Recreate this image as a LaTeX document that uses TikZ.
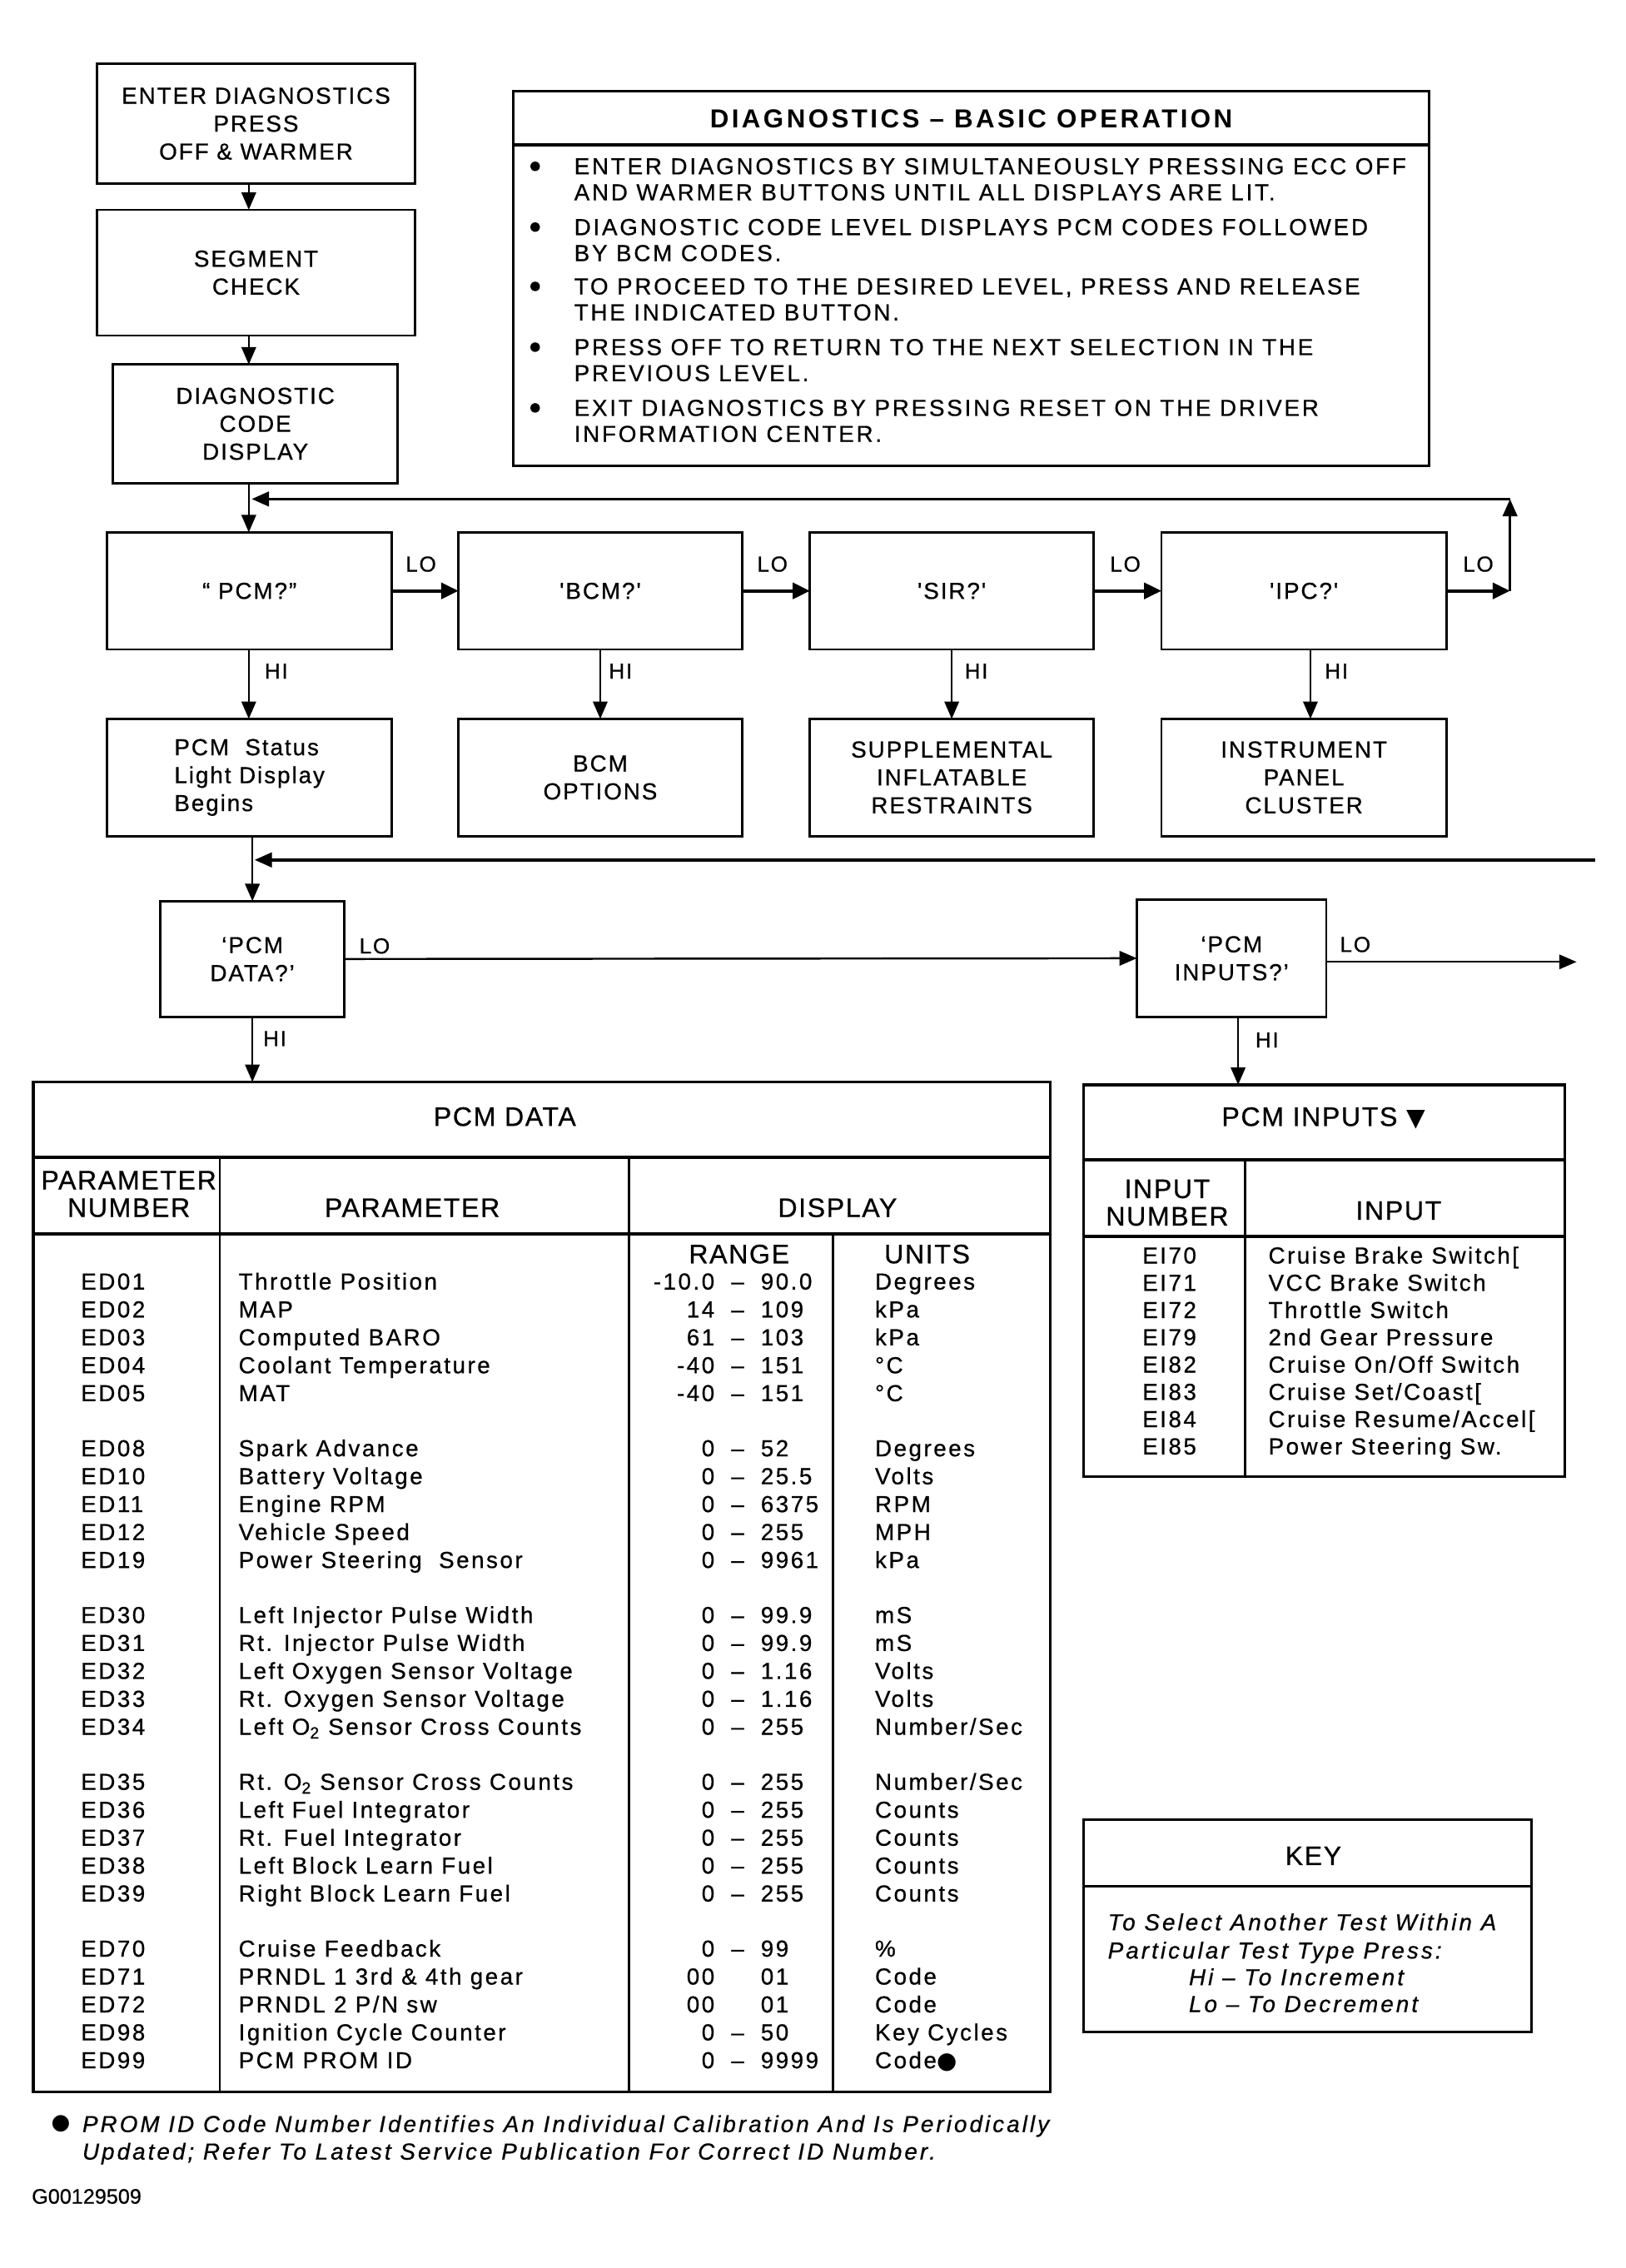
\documentclass[tikz,border=0pt]{standalone}
\usepackage{fontspec}
\setmainfont{Liberation Sans}
\newfontfamily\flowfont[LetterSpace=7,FakeBold=0.6]{Liberation Sans}
\newfontfamily\bulfont[LetterSpace=10,FakeBold=0.6]{Liberation Sans}
\newfontfamily\tabfont[LetterSpace=9,FakeBold=0.6]{Liberation Sans}
\newfontfamily\itfont[LetterSpace=11,FakeBold=0.6]{Liberation Sans Italic}
\newfontfamily\headfont[LetterSpace=5,FakeBold=0.6]{Liberation Sans}
\newfontfamily\titlefont[LetterSpace=11]{Liberation Sans Bold}
\newfontfamily\plainfont[FakeBold=0.6]{Liberation Sans}
\newfontfamily\symfont{DejaVu Sans}
\usetikzlibrary{arrows.meta}
\tikzset{
  every node/.style={inner sep=0pt, outer sep=0pt},
  fbox/.style={draw, line width=1.6pt, align=center, font=\flowfont\fontsize{16}{19.3}\selectfont},
  lbl/.style={font=\flowfont\fontsize{15}{18}\selectfont},
  conn/.style={line width=1.4pt, -{Triangle[length=12pt,width=10pt]}},
  loconn/.style={line width=2.4pt, -{Triangle[length=12pt,width=11pt]}},
  tabtxt/.style={font=\tabfont\fontsize{16}{19}\selectfont},
  headtxt/.style={font=\headfont\fontsize{18.5}{19}\selectfont, align=center},
  bultxt/.style={font=\bulfont\fontsize{16}{18}\selectfont, anchor=base west},
  keytxt/.style={font=\itfont\fontsize{16}{19}\selectfont, anchor=base west},
  tline/.style={line width=1.6pt},
  thline/.style={line width=2.4pt},
}
\begin{document}
\begin{tikzpicture}[x=1pt,y=-1pt]
\useasboundingbox (0,0) rectangle (1124,1568);
\fill[white] (0,0) rectangle (1124,1568);

\coordinate (colx) at (172,0);
\coordinate (hiipc) at (906,0);
\coordinate (hiinp) at (856,0);

% top flow
\node[fbox, minimum width=220pt, minimum height=83pt] (enter) at (177,85.5) {ENTER DIAGNOSTICS\\PRESS\\OFF \& WARMER};
\node[fbox, minimum width=220pt, minimum height=87pt] (segment) at (177,188.5) {SEGMENT\\CHECK};
\node[fbox, minimum width=197pt, minimum height=82pt] (diag) at (176.5,293) {DIAGNOSTIC\\CODE\\DISPLAY};

\draw[conn] (enter.south -| colx) -- (segment.north -| colx);
\draw[conn] (segment.south -| colx) -- (diag.north -| colx);

% basic operation box
\node[draw, line width=1.6pt, minimum width=633pt, minimum height=259pt] (basic) at (671.5,192.5) {};
\node[font=\titlefont\fontsize{18}{20}\selectfont] (basictitle) at (671.5,82) {DIAGNOSTICS – BASIC OPERATION};
\draw[thline] (355,100) -- (988,100);
\foreach \yy/\nm in {115/b1,157/b2,198/b3,240/b4,282/b5}{
  \fill (370,\yy) circle (3.3pt);
}
\node[bultxt] (l1) at (397,120.5) {ENTER DIAGNOSTICS BY SIMULTANEOUSLY PRESSING ECC OFF};
\node[bultxt] (l2) at (397,138.5) {AND WARMER BUTTONS UNTIL ALL DISPLAYS ARE LIT.};
\node[bultxt] (l3) at (397,162.5) {DIAGNOSTIC CODE LEVEL DISPLAYS PCM CODES FOLLOWED};
\node[bultxt] (l4) at (397,180.5) {BY BCM CODES.};
\node[bultxt] (l5) at (397,203.5) {TO PROCEED TO THE DESIRED LEVEL, PRESS AND RELEASE};
\node[bultxt] (l6) at (397,221.5) {THE INDICATED BUTTON.};
\node[bultxt] (l7) at (397,245.5) {PRESS OFF TO RETURN TO THE NEXT SELECTION IN THE};
\node[bultxt] (l8) at (397,263.5) {PREVIOUS LEVEL.};
\node[bultxt] (l9) at (397,287.5) {EXIT DIAGNOSTICS BY PRESSING RESET ON THE DRIVER};
\node[bultxt] (l10) at (397,305.5) {INFORMATION CENTER.};

% selection row
\node[fbox, minimum width=197pt, minimum height=81pt] (pcmq) at (172.5,408.5) {“ PCM?”};
\node[fbox, minimum width=196pt, minimum height=81pt] (bcmq) at (415,408.5) {'BCM?'};
\node[fbox, minimum width=196pt, minimum height=81pt] (sirq) at (658,408.5) {'SIR?'};
\node[fbox, minimum width=197pt, minimum height=81pt] (ipcq) at (901.5,408.5) {'IPC?'};

\node[fbox, minimum width=197pt, minimum height=81pt, align=left] (pcmst) at (172.5,537.5) {PCM~ Status\\Light Display\\Begins};
\node[fbox, minimum width=196pt, minimum height=81pt] (bcmopt) at (415,537.5) {BCM\\OPTIONS};
\node[fbox, minimum width=196pt, minimum height=81pt] (supp) at (658,537.5) {SUPPLEMENTAL\\INFLATABLE\\RESTRAINTS};
\node[fbox, minimum width=197pt, minimum height=81pt] (ipc) at (901.5,537.5) {INSTRUMENT\\PANEL\\CLUSTER};

\draw[loconn] (pcmq.east) -- (bcmq.west);
\draw[loconn] (bcmq.east) -- (sirq.west);
\draw[loconn] (sirq.east) -- (ipcq.west);
\coordinate (rA) at (1044,408.5);
\coordinate (rB) at (1044,345);
\coordinate (lA) at (174,345);
\draw[loconn] (ipcq.east) -- (rA);
\draw[conn, line width=2pt] (rA) -- (rB);
\draw[conn, line width=2pt] (rB) -- (lA);
\draw[conn] (diag.south -| colx) -- (pcmq.north -| colx);

\node[lbl] (lo1) at (291,390) {LO};
\node[lbl] (lo2) at (534,390) {LO};
\node[lbl] (lo3) at (778,390) {LO};
\node[lbl] (lo4) at (1022,390) {LO};

\draw[conn] (pcmq.south -| colx) -- (pcmst.north -| colx);
\draw[conn] (bcmq.south) -- (bcmopt.north);
\draw[conn] (sirq.south) -- (supp.north);
\draw[conn] (ipcq.south -| hiipc) -- (ipc.north -| hiipc);
\node[lbl] (hi1) at (191,464) {HI};
\node[lbl] (hi2) at (429,464) {HI};
\node[lbl] (hi3) at (675,464) {HI};
\node[lbl] (hi4) at (924,464) {HI};

% second level
\node[fbox, minimum width=127pt, minimum height=80pt] (pcmdq) at (174.5,663) {‘PCM\\DATA?’};
\node[fbox, minimum width=131pt, minimum height=81pt] (pcmiq) at (851.5,662.5) {‘PCM\\INPUTS?’};
\coordinate (rC) at (1103,594.5);
\coordinate (lC) at (176,594.5);
\draw[conn, line width=2pt] (rC) -- (lC);
\draw[conn] (pcmst.south -| pcmdq) -- (pcmdq.north);
\draw[conn] (pcmdq.east) -- (pcmiq.west);
\coordinate (rD) at (1090,665);
\draw[conn] (pcmiq.east |- rD) -- (rD);
\node[lbl] (lo5) at (259,654) {LO};
\node[lbl] (lo6) at (937,653) {LO};

% PCM DATA table
\node[draw, line width=1.8pt, minimum width=703pt, minimum height=698pt] (tdata) at (374.5,1097) {};
\draw[conn] (pcmdq.south) -- (pcmdq.south |- tdata.north);
\node[lbl] (hi5) at (190,718) {HI};
\draw[thline] (23,800) -- (726,800);
\draw[thline] (23,853) -- (726,853);
\draw[tline] (152,800) -- (152,1446);
\draw[tline] (435,800) -- (435,1446);
\draw[tline] (576,853) -- (576,1446);
\node[headtxt] (tdtitle) at (349,772) {PCM DATA};
\node[headtxt] (hpn) at (89,825.5) {PARAMETER\\NUMBER};
\node[headtxt] (hpar) at (285,835) {PARAMETER};
\node[headtxt] (hdisp) at (579,835) {DISPLAY};
\node[headtxt] (hrange) at (511,867) {RANGE};
\node[headtxt] (hunits) at (641,867) {UNITS};

\foreach \xa/\xb/\xc/\xd/\xe/\xf/\xg/\xh in {
 ED01/Throttle Position/-10.0/–/90.0/Degrees/0/0,
 ED02/MAP/14/–/109/kPa/0/1,
 ED03/Computed BARO/61/–/103/kPa/0/2,
 ED04/Coolant Temperature/-40/–/151/°C/0/3,
 ED05/MAT/-40/–/151/°C/0/4,
 ED08/Spark Advance/0/–/52/Degrees/1/0,
 ED10/Battery Voltage/0/–/25.5/Volts/1/1,
 ED11/Engine RPM/0/–/6375/RPM/1/2,
 ED12/Vehicle Speed/0/–/255/MPH/1/3,
 ED19/Power Steering~ Sensor/0/–/9961/kPa/1/4,
 ED30/Left Injector Pulse Width/0/–/99.9/mS/2/0,
 ED31/Rt. Injector Pulse Width/0/–/99.9/mS/2/1,
 ED32/Left Oxygen Sensor Voltage/0/–/1.16/Volts/2/2,
 ED33/Rt. Oxygen Sensor Voltage/0/–/1.16/Volts/2/3,
 ED34/{Left O\textsubscript{2} Sensor Cross Counts}/0/–/255/{Number/Sec}/2/4,
 ED35/{Rt. O\textsubscript{2} Sensor Cross Counts}/0/–/255/{Number/Sec}/3/0,
 ED36/Left Fuel Integrator/0/–/255/Counts/3/1,
 ED37/Rt. Fuel Integrator/0/–/255/Counts/3/2,
 ED38/Left Block Learn Fuel/0/–/255/Counts/3/3,
 ED39/Right Block Learn Fuel/0/–/255/Counts/3/4,
 ED70/Cruise Feedback/0/–/99/\%/4/0,
 ED71/{PRNDL 1 3rd \& 4th gear}/00//01/Code/4/1,
 ED72/{PRNDL 2 P/N sw}/00//01/Code/4/2,
 ED98/Ignition Cycle Counter/0/–/50/Key Cycles/4/3,
 ED99/PCM PROM ID/0/–/9999/{Code{\symfont ●}}/4/4}{
  \pgfmathsetmacro{\yy}{891.5+\xg*115.3+\xh*19.3}
  \node[tabtxt, anchor=base west] (dn\xg\xh) at (56,\yy) {\xa};
  \node[tabtxt, anchor=base west] (dp\xg\xh) at (165,\yy) {\xb};
  \node[tabtxt, anchor=base east] (dl\xg\xh) at (494,\yy) {\xc};
  \node[tabtxt, anchor=base] (dd\xg\xh) at (510,\yy) {\xd};
  \node[tabtxt, anchor=base west] (dh\xg\xh) at (526,\yy) {\xe};
  \node[tabtxt, anchor=base west] (du\xg\xh) at (605,\yy) {\xf};
}

% PCM INPUTS table
\node[draw, line width=1.8pt, minimum width=333pt, minimum height=271pt] (tinp) at (915.5,885.5) {};
\draw[conn] (pcmiq.south -| hiinp) -- (tinp.north -| hiinp);
\node[lbl] (hi6) at (876,719) {HI};
\draw[thline] (749,802) -- (1082,802);
\draw[thline] (749,855) -- (1082,855);
\draw[tline] (861,802) -- (861,1021);
\node[headtxt] (titinp) at (915,773) {PCM INPUTS {\symfont\fontsize{17}{19}\selectfont ▼}};
\node[headtxt] (hinum) at (807,831.5) {INPUT\\NUMBER};
\node[headtxt] (hinp) at (967,837) {INPUT};
\foreach \xa/\xb/\xi in {
 EI70/{Cruise Brake Switch[}/0,
 EI71/{VCC Brake Switch}/1,
 EI72/{Throttle Switch}/2,
 EI79/{2nd Gear Pressure}/3,
 EI82/{Cruise On/Off Switch}/4,
 EI83/{Cruise Set/Coast[}/5,
 EI84/{Cruise Resume/Accel[}/6,
 EI85/{Power Steering Sw.}/7}{
  \pgfmathsetmacro{\yy}{873.5+\xi*18.86}
  \node[tabtxt, anchor=base] (in\xi) at (808.5,\yy) {\xa};
  \node[tabtxt, anchor=base west] (ip\xi) at (877,\yy) {\xb};
}

% KEY
\node[draw, line width=1.8pt, minimum width=310pt, minimum height=147pt] (key) at (904,1331.5) {};
\draw[tline] (749,1304) -- (1059,1304);
\node[headtxt] (keyt) at (908,1283) {KEY};
\node[keytxt] (k1) at (766,1334.5) {To Select Another Test Within A};
\node[keytxt] (k2) at (766,1354) {Particular Test Type Press:};
\node[keytxt] (k3) at (822,1372.5) {Hi – To Increment};
\node[keytxt] (k4) at (822,1391) {Lo – To Decrement};

% footnote
\node[font=\symfont\fontsize{15}{18}\selectfont] (fb) at (42,1468) {●};
\node[keytxt] (f1) at (57,1474) {PROM ID Code Number Identifies An Individual Calibration And Is Periodically};
\node[keytxt] (f2) at (57,1493) {Updated; Refer To Latest Service Publication For Correct ID Number.};
\node[font=\plainfont\fontsize{14.5}{15}\selectfont, anchor=base west] (gnum) at (22,1523.5) {G00129509};
\end{tikzpicture}
\end{document}
